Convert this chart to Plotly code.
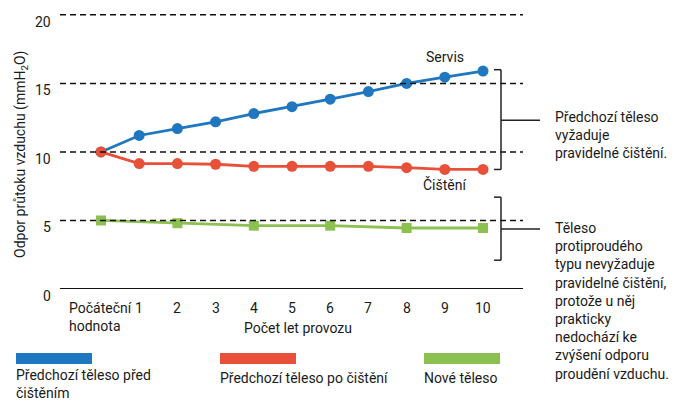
import plotly.graph_objects as go

# Years of operation (0 = initial value)
years = list(range(0, 11))
year_labels = ["Počáteční<br>hodnota", "1", "2", "3", "4", "5", "6", "7", "8", "9", "10"]

# Air-flow resistance (mmH2O)
before_cleaning = [10.0, 11.2, 11.7, 12.2, 12.8, 13.3, 13.85, 14.4, 15.0, 15.45, 15.9]
after_cleaning = [10.0, 9.15, 9.15, 9.1, 8.95, 8.95, 8.95, 8.95, 8.85, 8.72, 8.72]
new_years = [0, 2, 4, 6, 8, 10]
new_body = [5.0, 4.8, 4.62, 4.62, 4.45, 4.45]

y_ticks = [0, 5, 10, 15, 20]

BLUE = "#1f77c0"
RED = "#e8503a"
GREEN = "#8cc152"
INK = "#1a1a1a"
FONT = "Roboto"
FS = 14

W, H = 689, 401
ML, MR, MT, MB = 60, 166, 8, 112
PW, PH = W - ML - MR, H - MT - MB


def px_x(px):
    return (px - ML) / PW


def px_y(py):
    return (H - MB - py) / PH


fig = go.Figure()

fig.add_trace(go.Scatter(
    x=years, y=before_cleaning, mode="lines+markers",
    line=dict(color=BLUE, width=2.8),
    marker=dict(color=BLUE, size=11, symbol="circle"),
    cliponaxis=False, showlegend=False))
fig.add_trace(go.Scatter(
    x=years, y=after_cleaning, mode="lines+markers",
    line=dict(color=RED, width=2.8),
    marker=dict(color=RED, size=11, symbol="circle"),
    cliponaxis=False, showlegend=False))
fig.add_trace(go.Scatter(
    x=new_years, y=new_body, mode="lines+markers",
    line=dict(color=GREEN, width=2.8),
    marker=dict(color=GREEN, size=10, symbol="square"),
    cliponaxis=False, showlegend=False))

shapes = []
# dashed reference lines drawn over the series
for v in y_ticks[1:]:
    shapes.append(dict(type="line", xref="paper", yref="y", x0=0, x1=1, y0=v, y1=v,
                       line=dict(color="#111111", width=1.5, dash="6px,4px"), layer="above"))
# baseline
shapes.append(dict(type="line", xref="paper", yref="y", x0=0, x1=1, y0=0, y1=0,
                   line=dict(color="#111111", width=2), layer="above"))

# bracket for the previous body (between before/after cleaning at year 10)
bx = px_x(501)
btick = px_x(494)
top_v, bot_v = before_cleaning[-1], after_cleaning[-1]
mid_v = (top_v + bot_v) / 2
br = dict(color="#222222", width=1.5)
shapes += [
    dict(type="line", xref="paper", yref="y", x0=bx, x1=bx, y0=bot_v, y1=top_v + 0.1, line=br),
    dict(type="line", xref="paper", yref="y", x0=btick, x1=bx, y0=top_v + 0.1, y1=top_v + 0.1, line=br),
    dict(type="line", xref="paper", yref="y", x0=btick, x1=bx, y0=bot_v, y1=bot_v, line=br),
    dict(type="line", xref="paper", yref="y", x0=bx, x1=px_x(540), y0=mid_v, y1=mid_v, line=br),
]
# bracket for the new body
nb_top, nb_bot, nb_mid = 6.7, 2.1, 4.37
shapes += [
    dict(type="line", xref="paper", yref="y", x0=bx, x1=bx, y0=nb_bot, y1=nb_top, line=br),
    dict(type="line", xref="paper", yref="y", x0=btick, x1=bx, y0=nb_top, y1=nb_top, line=br),
    dict(type="line", xref="paper", yref="y", x0=btick, x1=bx, y0=nb_bot, y1=nb_bot, line=br),
    dict(type="line", xref="paper", yref="y", x0=bx, x1=px_x(540), y0=nb_mid, y1=nb_mid, line=br),
]

# legend swatches: (left px, colour, label, label centre px)
legend_items = [
    (16, BLUE, "Předchozí těleso před<br>čištěním", 384),
    (220, RED, "Předchozí těleso po čištění", 378),
    (424, GREEN, "Nové těleso", 378),
]
for x0, col, _, _ in legend_items:
    shapes.append(dict(type="rect", xref="paper", yref="paper",
                       x0=px_x(x0), x1=px_x(x0 + 76), y0=px_y(364), y1=px_y(353),
                       fillcolor=col, line=dict(width=0)))

annotations = []
font = dict(family=FONT, size=FS, color=INK)

# y tick labels
for v in y_ticks:
    annotations.append(dict(x=0, xref="paper", y=v, yref="y", text=str(v), showarrow=False,
                            xanchor="right", yanchor="middle", xshift=-7, yshift=-7, font=font))
# x tick labels
for yr, lab in zip(years, year_labels):
    annotations.append(dict(x=yr, xref="x", y=px_y(298), yref="paper", text=lab, showarrow=False,
                            xanchor="center", yanchor="top", align="left", font=font))

# axis titles
annotations.append(dict(x=px_x(298), xref="paper", y=px_y(328), yref="paper",
                        text="Počet let provozu", showarrow=False,
                        xanchor="center", yanchor="middle", font=font))
annotations.append(dict(x=px_x(21), xref="paper", y=px_y(155), yref="paper",
                        text="Odpor průtoku vzduchu (mmH<sub>2</sub>O)", showarrow=False,
                        textangle=-90, xanchor="center", yanchor="middle", font=font))

# series labels
annotations.append(dict(x=9, xref="x", y=px_y(57), yref="paper", text="Servis", showarrow=False,
                        xanchor="center", yanchor="middle", font=font))
annotations.append(dict(x=9, xref="x", y=px_y(184), yref="paper", text="Čištění", showarrow=False,
                        xanchor="center", yanchor="middle", font=font))

# explanatory notes
annotations.append(dict(x=px_x(553), xref="paper", y=px_y(135), yref="paper",
                        text="Předchozí těleso<br>vyžaduje<br>pravidelné čištění.",
                        showarrow=False, xanchor="left", yanchor="middle", align="left", font=font))
annotations.append(dict(x=px_x(553), xref="paper", y=px_y(301), yref="paper",
                        text="Těleso<br>protiproudého<br>typu nevyžaduje<br>pravidelné čištění,<br>"
                             "protože u něj<br>prakticky<br>nedochází ke<br>zvýšení odporu<br>proudění vzduchu.",
                        showarrow=False, xanchor="left", yanchor="middle", align="left", font=font))

# legend texts
for x0, _, txt, yc in legend_items:
    annotations.append(dict(x=px_x(x0), xref="paper", y=px_y(yc), yref="paper", text=txt,
                            showarrow=False, xanchor="left", yanchor="middle", align="left",
                            xshift=-2, font=font))

fig.update_layout(
    width=W, height=H,
    margin=dict(l=ML, r=MR, t=MT, b=MB),
    paper_bgcolor="white", plot_bgcolor="white",
    font=font,
    xaxis=dict(range=[-1.073, 11.047], showgrid=False, zeroline=False, showline=False,
               showticklabels=False, ticks=""),
    yaxis=dict(range=[0, 20.5], showgrid=False, zeroline=False, showline=False,
               showticklabels=False, ticks=""),
    shapes=shapes, annotations=annotations,
    showlegend=False,
)

fig.write_html("out.html")
